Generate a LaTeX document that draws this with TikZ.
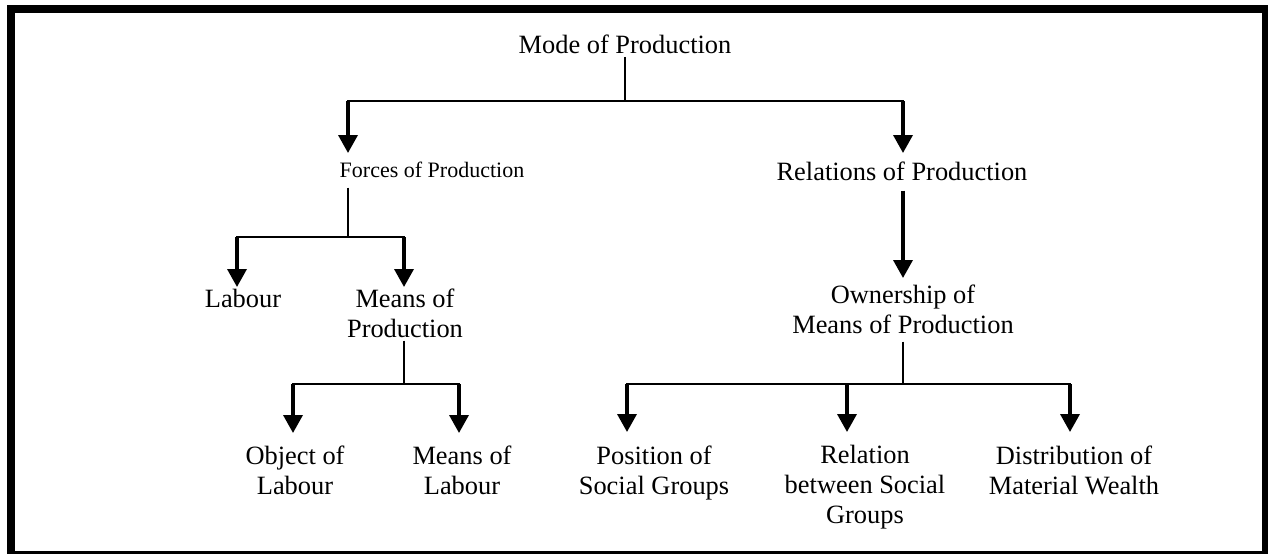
\documentclass[tikz,border=0pt]{standalone}
\usepackage{fontspec}
\setmainfont{Liberation Serif}
\usetikzlibrary{arrows.meta}
\begin{document}
\begin{tikzpicture}[x=0.5pt, y=-0.5pt,
  lbl/.style={inner xsep=0pt, inner ysep=#1, align=center,
              font=\fontsize{13.2}{15}\selectfont},
  lbl/.default=1.5pt,
  arr/.style={line width=1.75pt, -{Triangle[width=9.5pt,length=9pt]}},
  bar/.style={line width=1.25pt, line cap=rect},
  stem/.style={line width=0.6pt},
  frame/.style={line width=4pt}]
\useasboundingbox (0,0) rectangle (1268,553);

% outer frame
\draw[frame] (11,9) rectangle (1266,555);

% labels
\node[lbl] (mode) at (625,44) {Mode of Production};
\node[lbl=4.5pt, anchor=north, font=\fontsize{11}{13}\selectfont] (forces) at (432,153) {Forces of Production};
\node[lbl=4.5pt, anchor=north] (relations) at (902,153) {Relations of Production};
\node[lbl=1pt, anchor=north] (labour) at (243,287) {Labour};
\node[lbl=1pt, anchor=north] (means) at (405,287) {Means of\\Production};
\node[lbl=3.5pt, anchor=north] (owner) at (903,278) {Ownership of\\Means of Production};
\node[lbl=6pt, anchor=north] (object) at (295,433) {Object of\\Labour};
\node[lbl=6pt, anchor=north] (meansl) at (462,433) {Means of\\Labour};
\node[lbl=6.5pt, anchor=north] (position) at (654,432) {Position of\\Social Groups};
\node[lbl=6.5pt, anchor=north] (relation) at (865,432) {Relation\\between Social\\Groups};
\node[lbl=6.5pt, anchor=north] (distrib) at (1074,432) {Distribution of\\Material Wealth};

% mode of production -> forces / relations
\coordinate (j0) at (625,101);
\coordinate (j0l) at (348,101);
\coordinate (j0r) at (903,101);
\draw[stem] (mode.south) -- (j0);
\draw[bar] (j0l) -- (j0r);
\draw[arr] (j0l) -- (j0l |- forces.north);
\draw[arr] (j0r) -- (j0r |- relations.north);

% forces -> labour / means of production
\coordinate (j1) at (348,237);
\coordinate (j1l) at (237,237);
\coordinate (j1r) at (404,237);
\draw[stem] (forces.south -| j1) -- (j1);
\draw[bar] (j1l) -- (j1r);
\draw[arr] (j1l) -- (j1l |- labour.north);
\draw[arr] (j1r) -- (j1r |- means.north);

% means of production -> object / means of labour
\coordinate (j2) at (404,384);
\coordinate (j2l) at (293,384);
\coordinate (j2r) at (459,384);
\draw[stem] (means.south -| j2) -- (j2);
\draw[bar] (j2l) -- (j2r);
\draw[arr] (j2l) -- (j2l |- object.north);
\draw[arr] (j2r) -- (j2r |- meansl.north);

% relations -> ownership
\draw[arr] (relations.south -| owner.north) -- (owner.north);

% ownership -> three outcomes
\coordinate (j3) at (903,384);
\coordinate (j3l) at (627,384);
\coordinate (j3m) at (847,384);
\coordinate (j3r) at (1070,384);
\draw[stem] (owner.south) -- (j3);
\draw[bar] (j3l) -- (j3r);
\draw[arr] (j3l) -- (j3l |- position.north);
\draw[arr] (j3m) -- (j3m |- relation.north);
\draw[arr] (j3r) -- (j3r |- distrib.north);
\end{tikzpicture}
\end{document}
